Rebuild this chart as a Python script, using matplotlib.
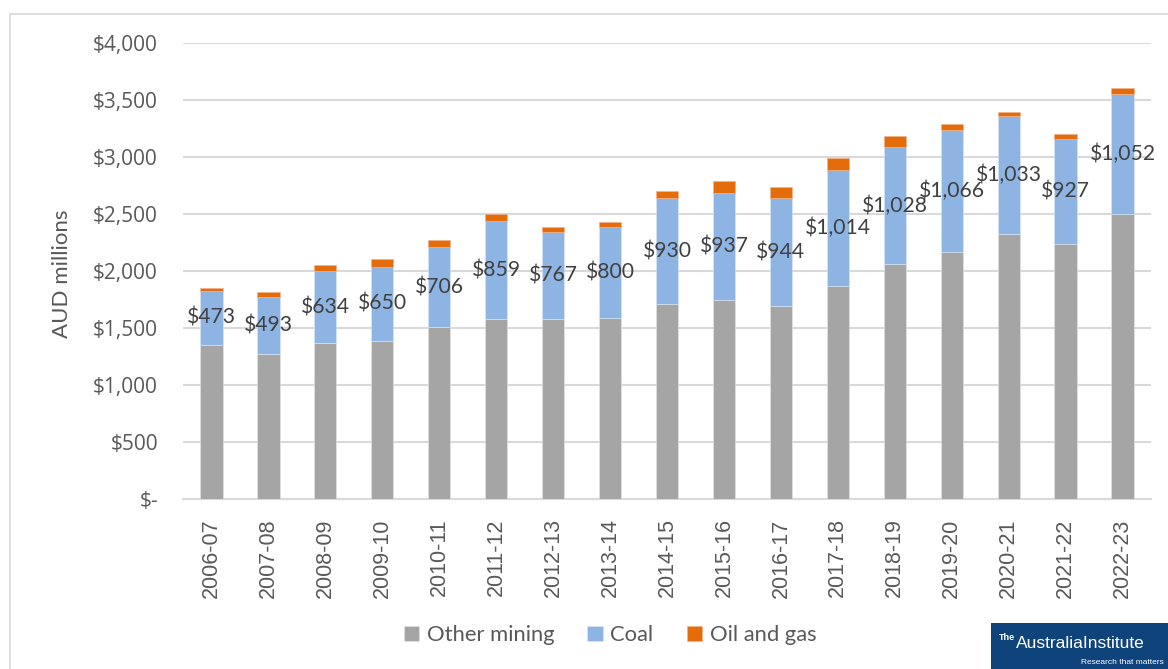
import matplotlib
matplotlib.use("Agg")
import matplotlib.pyplot as plt
from matplotlib.patches import Rectangle
from matplotlib.ticker import FuncFormatter
import numpy as np

years = ["2006-07", "2007-08", "2008-09", "2009-10", "2010-11", "2011-12", "2012-13",
         "2013-14", "2014-15", "2015-16", "2016-17", "2017-18", "2018-19", "2019-20",
         "2020-21", "2021-22", "2022-23"]
other_mining = [1352, 1276, 1366, 1389, 1506, 1576, 1576, 1585, 1708, 1743, 1693,
                1871, 2058, 2170, 2327, 2234, 2497]
coal = [473, 493, 634, 650, 706, 859, 767, 800, 930, 937, 944, 1014, 1028, 1066,
        1033, 927, 1052]
oil_gas = [23, 47, 50, 67, 61, 62, 42, 42, 68, 108, 97, 110, 95, 55, 35, 42, 60]
yticks = [0, 500, 1000, 1500, 2000, 2500, 3000, 3500, 4000]

W, H = 1168, 669
fig = plt.figure(figsize=(W / 100, H / 100), dpi=100)
fig.patch.set_facecolor("white")

# outer chart border (top & left visible)
fig.patches.append(Rectangle((10 / W, -0.05), 1.2, (H - 14) / H + 0.05,
                             transform=fig.transFigure, fill=False,
                             edgecolor="#d9d9d9", linewidth=1.2))

ax = fig.add_axes([183 / W, 1 - 499 / H, (1151 - 183) / W, (499 - 43) / H])

x = np.arange(len(years))
w = 0.39
c_other, c_coal, c_oil = "#a5a5a5", "#8db4e2", "#e46c0a"
other = np.array(other_mining)
cl = np.array(coal)
og = np.array(oil_gas)
ax.bar(x, other, w, color=c_other, label="Other mining", zorder=3,
       edgecolor="#e8e8e8", linewidth=0.4)
ax.bar(x, cl, w, bottom=other, color=c_coal, label="Coal", zorder=3,
       edgecolor="#dde8f5", linewidth=0.4)
ax.bar(x, og, w, bottom=other + cl, color=c_oil, label="Oil and gas", zorder=3,
       edgecolor="#f2b08a", linewidth=0.4)

for xi, o, c in zip(x, other, cl):
    ax.text(xi, o + c / 2, f"${c:,}", ha="center", va="center",
            fontsize=15.2, color="#404040", family="Lato", zorder=4)

ax.set_xlim(-0.5, len(years) - 0.5)
ax.set_ylim(0, 4000)
ax.set_yticks(yticks)
ax.yaxis.set_major_formatter(FuncFormatter(lambda v, p: "$-" if v == 0 else f"${v:,.0f}"))
ax.grid(axis="y", color="#d9d9d9", linewidth=1.5, zorder=0)
ax.set_xticks(x)
ax.set_xticklabels(years, rotation=90, fontsize=15.5, color="#595959",
                   family="Liberation Sans")
for lab in ax.get_yticklabels():
    lab.set_family("Open Sans")
    lab.set_fontsize(15)
    lab.set_color("#595959")
ax.tick_params(axis="y", length=0, pad=18)
ax.tick_params(axis="x", length=0, pad=14)
for s in ["top", "right", "left"]:
    ax.spines[s].set_visible(False)
ax.spines["bottom"].set_color("#d9d9d9")
ax.spines["bottom"].set_linewidth(1.5)

fig.text(62 / W, 1 - 274 / H, "AUD millions", rotation=90, ha="center", va="center",
         fontsize=16, color="#595959", family="Lato")

leg = fig.legend(loc="center", bbox_to_anchor=(610 / W, 1 - 635 / H), ncol=3,
                 frameon=False, fontsize=15.8, handlelength=0.7, handleheight=0.7,
                 columnspacing=1.5, handletextpad=0.35)
for t in leg.get_texts():
    t.set_color("#595959")
    t.set_family("Lato")

# logo
fig.patches.append(Rectangle((991 / W, 0), 0.2, (H - 623) / H,
                             transform=fig.transFigure, facecolor="#0f437c",
                             edgecolor="none", zorder=5))
fig.text(999 / W, 1 - 637 / H, "The", fontsize=6.5, color="white", family="Liberation Sans",
         ha="left", va="center", zorder=6, fontweight="bold")
fig.text(1016 / W, 1 - 643 / H, "AustraliaInstitute", fontsize=12.5, color="white",
         family="Liberation Sans", ha="left", va="center", zorder=6)
fig.text(1164 / W, 1 - 662 / H, "Research that matters", fontsize=6, color="white",
         family="Liberation Sans", ha="right", va="center", zorder=6)

fig.savefig("out.png", dpi=100)
